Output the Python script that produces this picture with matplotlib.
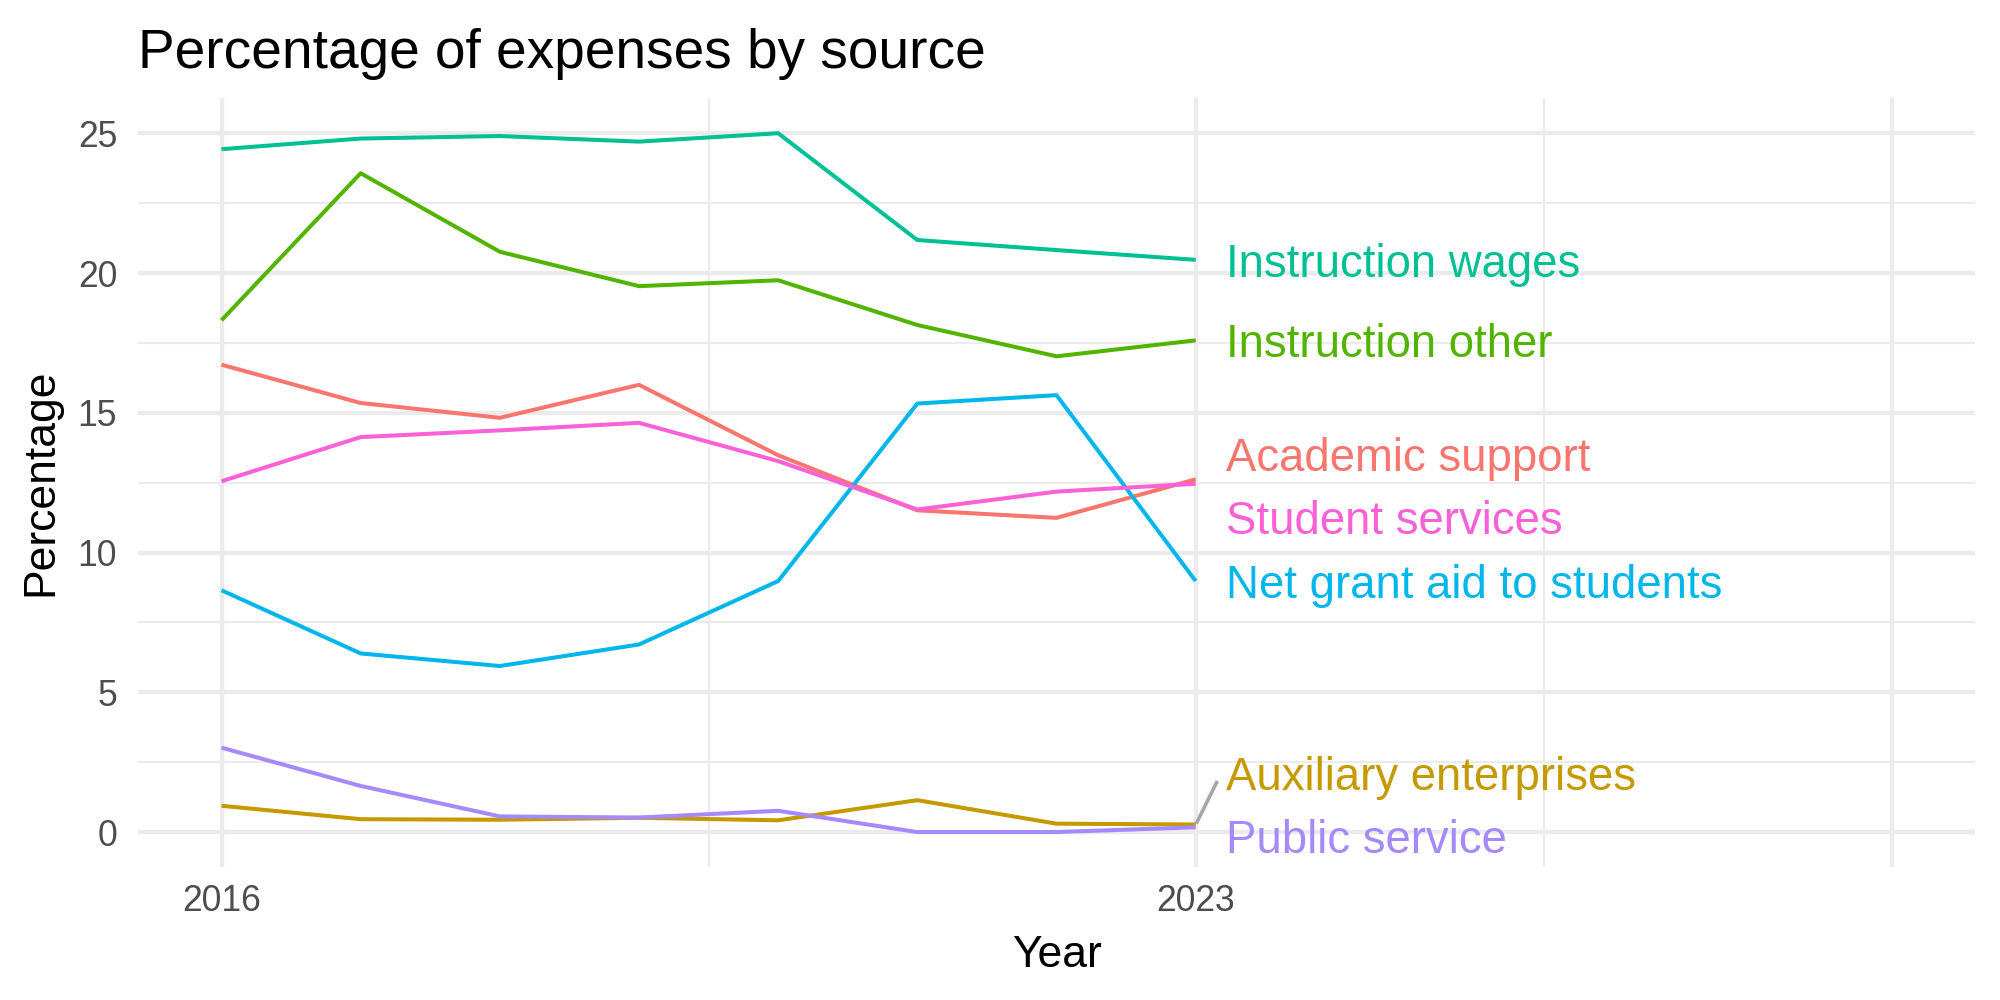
import matplotlib
matplotlib.use("Agg")
import matplotlib.pyplot as plt
import numpy as np

plt.rcParams["font.family"] = ["Liberation Sans", "DejaVu Sans"]

years = [2016, 2017, 2018, 2019, 2020, 2021, 2022, 2023]

sources = [
    "Academic support",
    "Auxiliary enterprises",
    "Instruction other",
    "Instruction wages",
    "Net grant aid to students",
    "Public service",
    "Student services",
]

academic_support = [16.72, 15.35, 14.82, 16.00, 13.48, 11.51, 11.24, 12.62]
auxiliary_enterprises = [0.94, 0.46, 0.44, 0.51, 0.42, 1.14, 0.30, 0.27]
instruction_other = [18.31, 23.57, 20.76, 19.53, 19.74, 18.14, 17.02, 17.59]
instruction_wages = [24.43, 24.81, 24.90, 24.70, 25.00, 21.18, 20.82, 20.47]
net_grant_aid = [8.65, 6.39, 5.94, 6.71, 8.98, 15.33, 15.63, 8.98]
public_service = [3.02, 1.65, 0.56, 0.52, 0.76, 0.00, 0.00, 0.17]
student_services = [12.55, 14.13, 14.37, 14.64, 13.27, 11.54, 12.18, 12.46]

series = [academic_support, auxiliary_enterprises, instruction_other,
          instruction_wages, net_grant_aid, public_service, student_services]

# ggplot hue palette, alphabetical order
colors = ["#F8766D", "#C49A00", "#53B400", "#00C094", "#00B6EB", "#A58AFF", "#FB61D7"]

# repelled label heights (centre of caps), in data units
label_y = [13.50, 2.10, 17.58, 20.45, 8.96, -0.17, 11.25]

fig = plt.figure(figsize=(10, 5), dpi=200)
ax = fig.add_axes([0.069, 0.133, 0.9185, 0.7687])

for vals, col in zip(series, colors):
    ax.plot(years, vals, color=col, lw=1.45, solid_capstyle="butt",
            solid_joinstyle="round", zorder=3)

# leader segment for the one label that got pushed away from its line
ax.plot([2023.01, 2023.15], [0.36, 1.77], color="#A6A6A6", lw=1.3, zorder=3)

cap_half = 0.716 * 16.4 / 2
for name, col, ly in zip(sources, colors, label_y):
    ax.annotate(name, (2023.215, ly), xytext=(0, -cap_half), textcoords="offset points",
                color=col, fontsize=16.4, ha="left", va="baseline", zorder=4)

all_vals = np.concatenate([np.array(s) for s in series])
lo, hi = all_vals.min(), all_vals.max()
pad = 0.05 * (hi - lo)
ax.set_ylim(lo - pad, hi + pad)
ax.set_xlim(2016 - 0.6, 2028 + 0.6)

ax.set_xticks([2016, 2023, 2028])
ax.set_xticklabels(["2016", "2023", ""])
ax.set_xticks([2019.5, 2025.5], minor=True)
ax.set_yticks([0, 5, 10, 15, 20, 25])
ax.set_yticks([2.5, 7.5, 12.5, 17.5, 22.5], minor=True)

ax.grid(which="major", color="#EBEBEB", lw=1.55)
ax.grid(which="minor", color="#EBEBEB", lw=0.78)
ax.set_axisbelow(True)
for sp in ax.spines.values():
    sp.set_visible(False)
ax.tick_params(which="both", length=0)
ax.tick_params(axis="y", labelsize=12.8, labelcolor="#4D4D4D", pad=7.5)
ax.tick_params(axis="x", labelsize=12.8, labelcolor="#4D4D4D", pad=6)

ax.set_xlabel("Year", fontsize=16, labelpad=6)
ax.set_ylabel("Percentage", fontsize=16, labelpad=6)
ax.set_title("Percentage of expenses by source", fontsize=19.8, loc="left", pad=11)

fig.savefig("out.png", dpi=200, facecolor="white")
